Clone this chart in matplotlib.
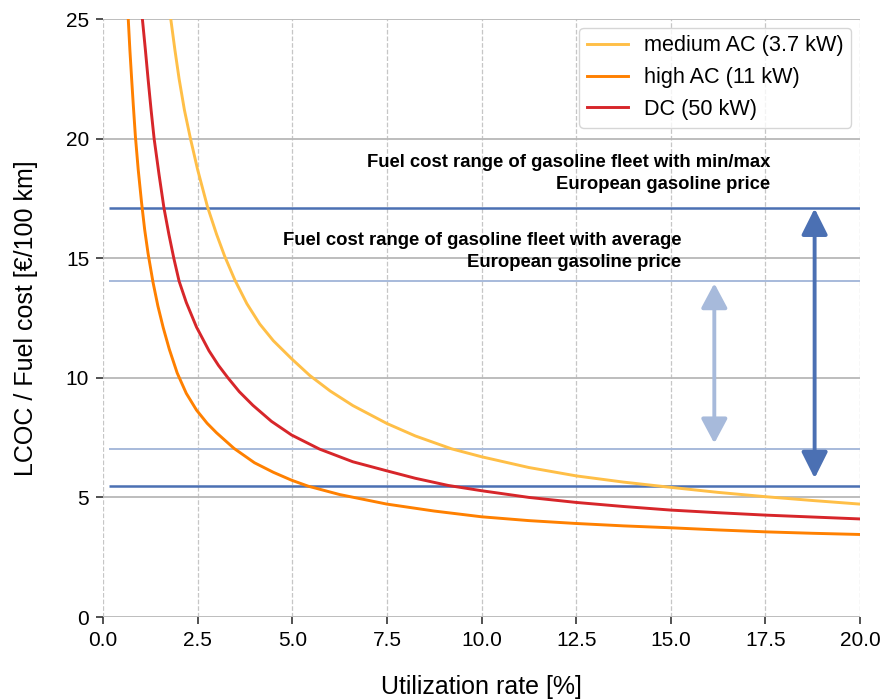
import matplotlib
matplotlib.use("Agg")
import matplotlib.pyplot as plt

plt.rcParams['font.family'] = ['Liberation Sans', 'DejaVu Sans']

# utilization rate [%] and LCOC [EUR/100 km]
medium_x = [1.70, 1.79, 1.90, 2.01, 2.15, 2.31, 2.50, 2.76, 3.00, 3.21, 3.48, 3.80, 4.14, 4.50, 4.98,
            5.46, 6.00, 6.60, 7.5, 8.25, 9.21, 10.0, 11.25, 12.5, 13.75, 15.0, 16.25, 17.5, 18.75, 20.0]
medium_y = [26.5, 25.0, 23.7, 22.5, 21.2, 20.0, 18.7, 17.15, 16.0, 15.1, 14.1, 13.1, 12.25, 11.55, 10.8,
            10.1, 9.45, 8.84, 8.09, 7.57, 7.03, 6.70, 6.25, 5.90, 5.64, 5.42, 5.21, 5.03, 4.87, 4.72]

high_x = [0.62, 0.66, 0.71, 0.76, 0.80, 0.855, 0.93, 1.02, 1.10, 1.19, 1.32, 1.45, 1.59, 1.75, 1.96,
          2.2, 2.47, 2.75, 3.0, 3.46, 4.0, 4.5, 4.98, 5.42, 6.25, 7.5, 8.75, 10.0, 11.25, 12.5,
          13.75, 15.0, 16.25, 17.5, 18.75, 20.0]
high_y = [26.9, 25.2, 23.7, 22.4, 21.4, 20.1, 18.7, 17.3, 16.2, 15.2, 14.0, 13.0, 12.1, 11.2, 10.2,
          9.35, 8.65, 8.1, 7.7, 7.05, 6.45, 6.05, 5.72, 5.47, 5.12, 4.72, 4.43, 4.19, 4.03, 3.91,
          3.81, 3.73, 3.64, 3.56, 3.50, 3.45]

dc_x = [0.98, 1.04, 1.12, 1.19, 1.27, 1.35, 1.48, 1.61, 1.74, 1.87, 2.01, 2.2, 2.47, 2.8, 3.05,
        3.3, 3.6, 3.96, 4.45, 4.98, 5.72, 6.6, 7.5, 8.25, 9.12, 10.0, 11.25, 12.5, 13.75, 15.0,
        16.25, 17.5, 18.75, 20.0]
dc_y = [26.8, 25.0, 23.7, 22.5, 21.2, 20.0, 18.5, 17.1, 16.0, 15.0, 14.04, 13.15, 12.12, 11.13, 10.52,
        10.0, 9.42, 8.85, 8.18, 7.61, 7.02, 6.49, 6.11, 5.8, 5.5, 5.28, 5.0, 4.79, 4.62, 4.47,
        4.36, 4.26, 4.18, 4.10]

labels = ['medium AC (3.7 kW)', 'high AC (11 kW)', 'DC (50 kW)']
colors = ['#ffbf47', '#ff8000', '#d7262a']

# gasoline fuel cost bounds [EUR/100 km]
minmax_range = [5.47, 17.12]
average_range = [7.03, 14.04]
dark_blue = '#4b70b3'
light_blue = '#a7badb'

fig = plt.figure(figsize=(8.82, 6.99), dpi=100)
ax = fig.add_axes([0.1168, 0.1173, 0.8583, 0.8555])

for xs, ys, lab, c in zip([medium_x, high_x, dc_x], [medium_y, high_y, dc_y], labels, colors):
    ax.plot(xs, ys, color=c, lw=2.1, label=lab, zorder=3)

ax.hlines(minmax_range, 0.15, 20, color=dark_blue, lw=1.8, zorder=2)
ax.hlines(average_range, 0.15, 20, color=light_blue, lw=1.4, zorder=2)

ax.annotate('', xy=(18.8, 5.80), xytext=(18.8, 17.08),
            arrowprops=dict(arrowstyle='<|-|>,head_length=1.6,head_width=0.8',
                            mutation_scale=10, lw=2.8, color=dark_blue,
                            shrinkA=0, shrinkB=0), zorder=4)
ax.annotate('', xy=(16.15, 7.26), xytext=(16.15, 13.95),
            arrowprops=dict(arrowstyle='<|-|>,head_length=1.5,head_width=0.8',
                            mutation_scale=10, lw=2.8, color=light_blue,
                            shrinkA=0, shrinkB=0), zorder=4)

ax.text(17.62, 18.54, 'Fuel cost range of gasoline fleet with min/max\nEuropean gasoline price',
        ha='right', va='center', multialignment='right', fontsize=13.3, fontweight='bold',
        linespacing=1.4)
ax.text(15.27, 15.29, 'Fuel cost range of gasoline fleet with average\nEuropean gasoline price',
        ha='right', va='center', multialignment='right', fontsize=13.3, fontweight='bold',
        linespacing=1.4)

ax.set_xlim(0, 20)
ax.set_ylim(0, 25)
ax.set_xticks([0, 2.5, 5, 7.5, 10, 12.5, 15, 17.5, 20])
ax.set_xticklabels(['0.0', '2.5', '5.0', '7.5', '10.0', '12.5', '15.0', '17.5', '20.0'])
ax.set_yticks([0, 5, 10, 15, 20, 25])

for s in ax.spines.values():
    s.set_visible(False)
ax.grid(axis='y', color='#b8b8b8', lw=1.3, ls='-', zorder=0)
ax.grid(axis='x', color='#c6c6c6', lw=0.9, ls='--', zorder=0)
ax.set_axisbelow(True)
ax.tick_params(axis='both', direction='out', length=5, width=1.2, color='#333333',
               labelsize=15, pad=5)

ax.set_xlabel('Utilization rate [%]', fontsize=18, labelpad=18)
ax.set_ylabel('LCOC / Fuel cost [€/100 km]', fontsize=18, labelpad=20)

leg = ax.legend(loc='upper right', fontsize=15.6, frameon=True, fancybox=True,
                edgecolor='#cccccc', handlelength=1.88, borderpad=0.35,
                labelspacing=0.5, handletextpad=0.76, borderaxespad=0.4)
leg.get_frame().set_linewidth(1.0)

fig.savefig('out.png', dpi=100)
